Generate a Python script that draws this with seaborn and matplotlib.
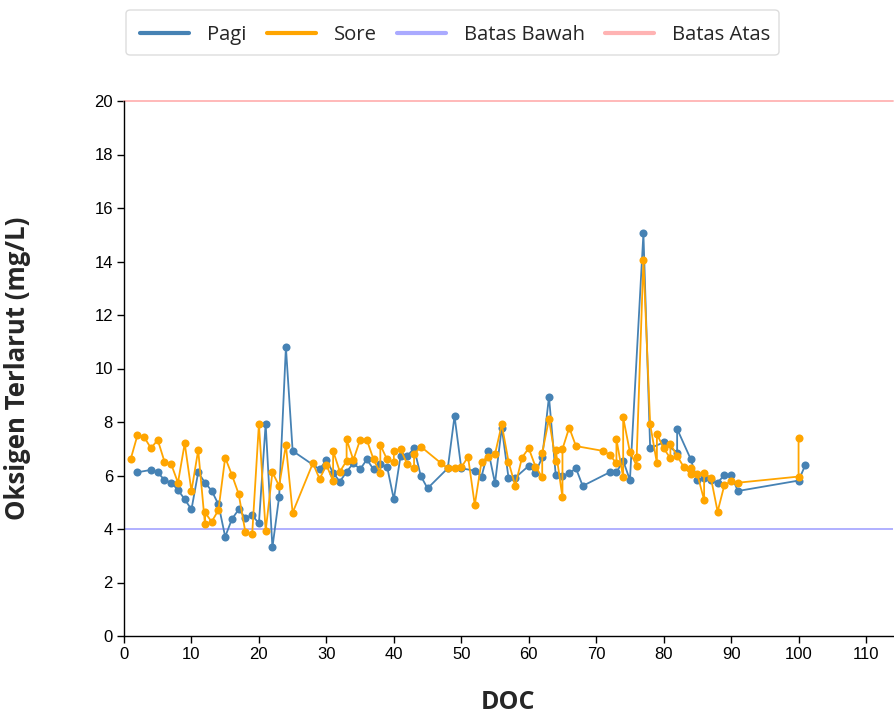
import matplotlib
matplotlib.use("Agg")
import matplotlib.pyplot as plt
from matplotlib.lines import Line2D
from matplotlib.patches import FancyBboxPatch
import pandas as pd
import seaborn as sns

# Dissolved oxygen readings per day of culture (DOC)
doc_pagi = [2, 4, 5, 6, 7, 8, 9, 10, 11, 12, 13, 14, 15, 16, 17, 18, 19, 20, 21, 22, 23, 24, 25,
            29, 30, 31, 32, 33, 34, 35, 36, 37, 38, 39, 40, 41, 42, 43, 44, 45,
            48, 49, 50, 52, 53, 54, 55, 56, 57, 58,
            60, 61, 62, 63, 64, 65, 66, 67, 68, 72, 73, 74, 75,
            77, 78, 80, 82, 82, 84, 85, 86, 87, 88, 89, 90, 91, 100, 101]
do_pagi = [6.12, 6.21, 6.12, 5.83, 5.73, 5.46, 5.11, 4.73, 6.12, 5.73, 5.43, 4.92, 3.71, 4.37,
           4.73, 4.42, 4.51, 4.21, 7.93, 3.31, 5.21, 10.8, 6.92,
           6.23, 6.58, 6.10, 5.77, 6.14, 6.46, 6.23, 6.60, 6.23, 6.42, 6.33, 5.11, 6.73, 6.73,
           7.02, 5.98, 5.52,
           6.27, 8.22, 6.27, 6.18, 5.96, 6.93, 5.71, 7.79, 5.92, 5.92,
           6.36, 6.11, 6.68, 8.95, 6.02, 5.99, 6.08, 6.27, 5.61, 6.12, 6.12, 6.55, 5.83,
           15.05, 7.02, 7.24, 6.85, 7.74, 6.62, 5.83, 5.89, 5.83, 5.73, 6.02, 6.02, 5.42,
           5.81, 6.39]

doc_sore = [1, 2, 3, 4, 5, 6, 7, 8, 9, 10, 11, 12, 12, 13, 14, 15, 16, 17, 18, 19, 20, 21, 22,
            23, 24, 25, 28, 29, 30, 31, 31, 32, 33, 33, 34, 35, 36, 37, 38, 38, 39, 40, 40,
            41, 42, 43, 43, 44, 47, 48, 49, 50, 51, 52, 53, 54, 55, 56, 57, 58, 59, 60, 61,
            62, 62, 63, 64, 64, 65, 65, 66, 67, 71, 72, 73, 73, 74, 74, 75, 76, 76, 77, 78,
            79, 79, 80, 81, 81, 82, 83, 84, 84, 85, 86, 86, 87, 88, 89, 90, 91, 100, 100]
do_sore = [6.62, 7.51, 7.43, 7.02, 7.33, 6.52, 6.42, 5.73, 7.20, 5.42, 6.95, 4.62, 4.19,
           4.27, 4.71, 6.67, 6.02, 5.31, 3.87, 3.80, 7.93, 3.93, 6.12, 5.61, 7.14, 4.61,
           6.46, 5.87, 6.39, 6.92, 5.80, 6.14, 7.35, 6.55, 6.58, 7.33, 7.33, 6.60, 7.14,
           6.08, 6.60, 6.93, 6.52, 6.98, 6.42, 6.79, 6.27, 7.08,
           6.46, 6.27, 6.27, 6.30, 6.70, 4.90, 6.52, 6.70, 6.80, 7.91, 6.52, 5.61, 6.67,
           7.02, 6.33, 6.85, 5.93, 8.11, 6.95, 6.55, 6.99, 5.18, 7.79, 7.10, 6.92, 6.77,
           7.36, 6.46, 8.17, 5.93, 6.87, 6.68, 6.37, 14.06, 7.91, 7.55, 6.46, 7.02, 7.18,
           6.64, 6.73, 6.31, 6.29, 6.06, 6.04, 6.08, 5.08, 5.92, 4.65, 5.64, 5.79, 5.73,
           5.96, 7.39]

batas_bawah = 4
batas_atas = 20
x_ticks = list(range(0, 111, 10))
y_ticks = list(range(0, 21, 2))

series_names = ["Pagi", "Sore"]
colors = {"Pagi": "#4682b4", "Sore": "#ffa500"}
color_bawah = "#aaaaff"
color_atas = "#ffb3b3"

df = pd.concat([
    pd.DataFrame({"DOC": doc_pagi, "DO": do_pagi, "Waktu": "Pagi"}),
    pd.DataFrame({"DOC": doc_sore, "DO": do_sore, "Waktu": "Sore"}),
], ignore_index=True)

sns.set_theme(style="ticks")
plt.rcParams["font.family"] = ["Liberation Sans", "DejaVu Sans"]

W, H = 895, 716
fig = plt.figure(figsize=(W / 100, H / 100), dpi=100)
ax = fig.add_axes([124 / W, 1 - 636 / H, (893 - 124) / W, (636 - 101) / H])

ax.axhline(batas_bawah, color=color_bawah, lw=1.3, zorder=1)
ax.axhline(batas_atas, color=color_atas, lw=1.3, zorder=1, clip_on=False)

sns.lineplot(data=df, x="DOC", y="DO", hue="Waktu", hue_order=series_names,
             palette=colors, estimator=None, sort=True, lw=1.3,
             marker="o", markersize=5.8, markeredgewidth=0, legend=False, ax=ax, zorder=3)

ax.set_xlim(0, 114)
ax.set_ylim(0, 20)
ax.set_xticks(x_ticks)
ax.set_yticks(y_ticks)
ax.tick_params(axis="both", length=5, width=1, color="black", labelsize=12,
               labelcolor="black", pad=3)
for side in ("top", "right"):
    ax.spines[side].set_visible(False)
for side in ("left", "bottom"):
    ax.spines[side].set_color("black")
    ax.spines[side].set_linewidth(1)
ax.grid(False)

ax.set_xlabel("DOC", fontsize=18, fontweight="bold", family="Open Sans")
ax.set_ylabel("Oksigen Terlarut (mg/L)", fontsize=18.5, fontweight="bold", family="Open Sans")
ax.xaxis.set_label_coords(0.5, (636 - 690) / 535)
ax.yaxis.set_label_coords((31 - 124) / 769, 0.5)

# Legend box with rounded corners across the top
box_l, box_r, box_t, box_b = 126, 779, 10, 55
fig.patches.append(FancyBboxPatch(
    (box_l / W, 1 - box_b / H), (box_r - box_l) / W, (box_b - box_t) / H,
    boxstyle="round,pad=0,rounding_size=0.005", transform=fig.transFigure,
    facecolor="white", edgecolor="#dddddd", linewidth=1, zorder=0))

handles = [
    Line2D([], [], color=colors["Pagi"], lw=3),
    Line2D([], [], color=colors["Sore"], lw=3),
    Line2D([], [], color=color_bawah, lw=3),
    Line2D([], [], color=color_atas, lw=3),
]
labels = ["Pagi", "Sore", "Batas Bawah", "Batas Atas"]
fig.legend(handles, labels, loc="center",
           bbox_to_anchor=((box_l + box_r) / 2 / W + 3 / W, 1 - ((box_t + box_b) / 2 + 2.5) / H),
           ncol=4, frameon=False, handlelength=2.4, handletextpad=0.9,
           columnspacing=1.0, borderpad=0, borderaxespad=0,
           prop={"family": "Open Sans", "size": 14.6})

fig.savefig("out.png", dpi=100)
